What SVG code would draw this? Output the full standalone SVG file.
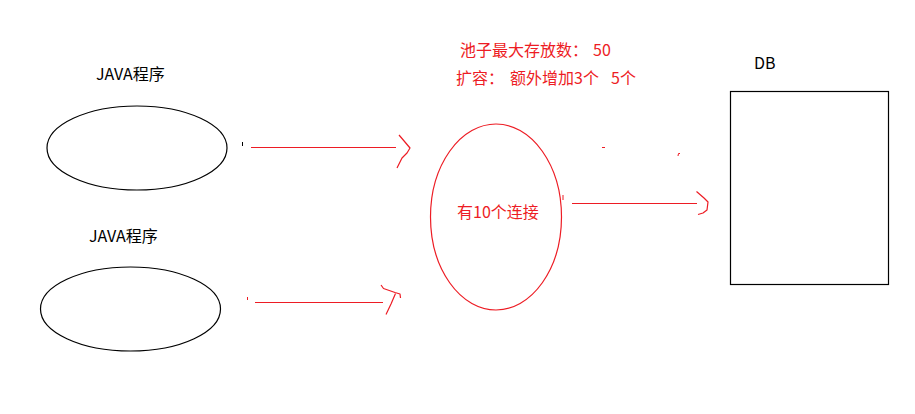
<svg xmlns="http://www.w3.org/2000/svg" width="915" height="414" viewBox="0 0 915 414">
<style>
  .lbl { font-family: "Noto Sans CJK SC", "Liberation Sans", sans-serif; font-size: 16px; }
  .blk { fill: #000000; }
  .red { fill: #ed1c24; }
  .shape { fill: none; stroke: #000000; stroke-width: 1.2; }
  .rshape { fill: none; stroke: #ed1c24; stroke-width: 1.2; }
  .conn { fill: none; stroke: #ed1c24; stroke-width: 1.2; stroke-linecap: butt; stroke-linejoin: round; }
</style>
<rect x="0" y="0" width="915" height="414" fill="#ffffff"/>

<g id="java1">
  <ellipse class="shape" cx="137" cy="148" rx="90" ry="42"/>
  <text class="lbl blk" x="96" y="80">JAVA程序</text>
</g>

<g id="java2">
  <ellipse class="shape" cx="130.5" cy="309" rx="90" ry="42"/>
  <text class="lbl blk" x="89" y="242">JAVA程序</text>
</g>

<g id="pool">
  <ellipse class="rshape" cx="496" cy="217" rx="65.5" ry="93"/>
  <text class="lbl red" x="457" y="218">有10个连接</text>
</g>

<g id="pool-notes">
  <text class="lbl red" y="56"><tspan x="460">池子最大存放数：</tspan><tspan x="593">50</tspan></text>
  <text class="lbl red" y="84"><tspan x="456">扩容：</tspan><tspan x="510">额外增加3个</tspan><tspan x="611">5个</tspan></text>
</g>

<g id="db">
  <rect class="shape" x="730.5" y="91.5" width="158" height="193"/>
  <text class="lbl blk" x="754" y="69">DB</text>
</g>

<g id="connectors">
  <!-- java1 -> pool -->
  <line class="conn" x1="251" y1="147.5" x2="396" y2="147.5"/>
  <path class="conn" d="M399,135 L402,138.5 L410,148 L407,153 L402,158 L397,168"/>
  <line x1="242.5" y1="142" x2="242.5" y2="146" stroke="#000" stroke-width="1"/>
  <!-- java2 -> pool -->
  <line class="conn" x1="255" y1="302.5" x2="383" y2="302.5"/>
  <path class="conn" d="M381,285 L383.5,288.5 L395,292.5 L400,294 L400.5,298"/>
  <path class="conn" d="M395.5,293.5 L391,304 L386,314.5"/>
  <line x1="247.5" y1="297" x2="247.5" y2="300" stroke="#ed1c24" stroke-width="1"/>
  <!-- pool -> db -->
  <line class="conn" x1="572" y1="203.5" x2="697" y2="203.5"/>
  <path class="conn" d="M696.5,191.5 L704,198 L708,202 L707,210 L703,213 L698,214.5"/>
  <line x1="563" y1="195" x2="563" y2="200" stroke="#ed1c24" stroke-width="1"/>
  <!-- stray marks -->
  <line x1="602" y1="147.5" x2="605" y2="147.5" stroke="#ed1c24" stroke-width="1"/>
  <path d="M678,156 L678.5,153.5 L680,153.5" fill="none" stroke="#ed1c24" stroke-width="1"/>
</g>
</svg>
